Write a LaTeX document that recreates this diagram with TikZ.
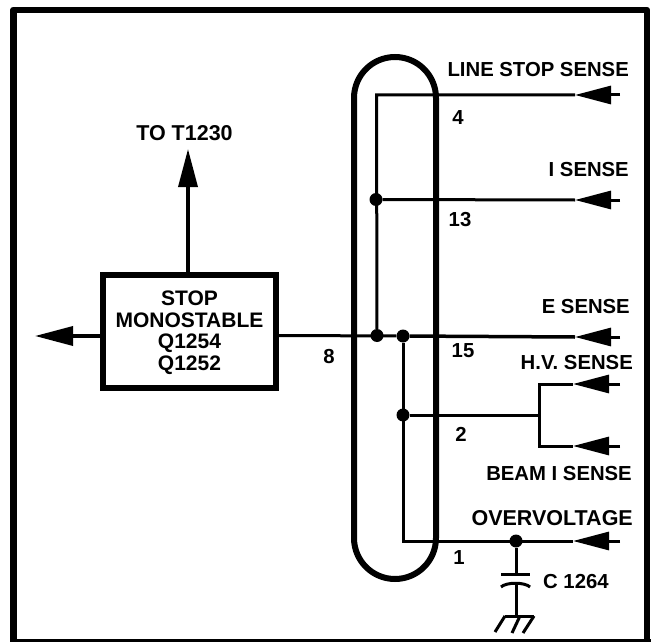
\documentclass[tikz,border=0pt]{standalone}
\usepackage{fontspec}
\setmainfont{Liberation Sans}
\usetikzlibrary{arrows.meta}
\tikzset{
 wire/.style={line width=3pt,black},
 lbl/.style={font=\bfseries\fontsize{20.3pt}{21.5pt}\selectfont,inner sep=0pt,text=black},
 dot/.style={circle,fill=black,inner sep=0pt,minimum size=13pt},
 arw/.style={wire,-{Triangle[length=36pt,width=18pt]}},
 bigarw/.style={wire,line width=3.5pt,-{Triangle[length=38pt,width=19pt]}},
}
\begin{document}
\begin{tikzpicture}[x=1pt,y=-1pt]
\useasboundingbox (0,0) rectangle (651,642);
\draw[line width=6.5pt,black,line join=round] (13.3,640)--(13.3,10)--(647,10)--(647,640);
\draw[line width=3pt,black] (10,640)--(651,640);
\draw[line width=6pt,black,rounded corners=41pt] (354,57) rectangle (436,579);
% block
\node[draw=black,line width=6pt,minimum width=173pt,minimum height=113pt,align=center,lbl,font=\bfseries\fontsize{21pt}{21.5pt}\selectfont,text depth=0pt,yshift=0pt] (stop) at (189.5,331.5) {};
\node[lbl,align=center,font=\bfseries\fontsize{21pt}{21.5pt}\selectfont] (stoptext) at (189.5,332.5)
 {STOP\\MONOSTABLE\\Q1254\\Q1252};
\coordinate (l) at (35,336);
\draw[bigarw] (stop.west |- l) -- (l);
\coordinate (up) at (188,149);
\draw[bigarw] (up |- stop.north) -- (up);
\node[lbl,font=\bfseries\fontsize{21.5pt}{22pt}\selectfont] (tot) at (184.5,133) {TO T1230};
% junctions
\node[dot] (j1) at (376,199.5) {};
\node[dot] (j2) at (377,335.5) {};
\node[dot] (j3) at (403,336) {};
\node[dot] (j4) at (403,415) {};
\node[dot] (j5) at (516,541) {};
% inputs
\coordinate (t1) at (575,95);
\coordinate (t2) at (575,200);
\coordinate (t3) at (575,337);
\coordinate (t4) at (573,384);
\coordinate (t5) at (573,446);
\coordinate (t6) at (573,541);
\coordinate (e1) at (620,95);
\coordinate (e2) at (620,200);
\coordinate (e3) at (620,337);
\coordinate (e4) at (620,384);
\coordinate (e5) at (620,446);
\coordinate (e6) at (620,541);
\draw[arw] (e1)--(t1); \draw[arw] (e2)--(t2); \draw[arw] (e3)--(t3);
\draw[arw] (e4)--(t4); \draw[arw] (e5)--(t5); \draw[arw] (e6)--(t6);
\draw[wire] (j2) -- (376.5,95) -- (t1);
\draw[wire] (j1) -- (t2);
\draw[wire] (stop.east |- j2) -- (j3);
\draw[wire,line width=3.5pt] (j3) -- (t3);
\draw[wire] (j3) -- (403,541) -- (t6);
\draw[wire] (j4) -- (539,415);
\draw[wire] (t4) -- (539,384) -- (539,446) -- (t5);
% capacitor
\coordinate (p1) at (501,574);
\coordinate (p2) at (530,574);
\coordinate (q1) at (501,587);
\coordinate (q2) at (530,587);
\coordinate (g) at (516,616);
\draw[wire] (j5) -- (516,574);
\draw[wire] (p1) -- (p2);
\draw[wire] (q1) .. controls (506,582) and (525,582) .. (q2);
\draw[wire] (516,583) -- (g);
\draw[wire] (505,616) -- (534,616);
\draw[wire] (505,616) -- (495,632) (520,616) -- (512,633) (534,616) -- (523,633);
% labels
\node[lbl,anchor=east] (a) at (629,70) {LINE STOP SENSE};
\node[lbl,anchor=east] (b) at (629,170) {I SENSE};
\node[lbl,anchor=east] (c) at (630,307) {E SENSE};
\node[lbl,anchor=east] (d) at (633,363) {H.V. SENSE};
\node[lbl,anchor=east] (e) at (632,474) {BEAM I SENSE};
\node[lbl,anchor=east,font=\bfseries\fontsize{21.5pt}{22pt}\selectfont] (f) at (633,518) {OVERVOLTAGE};
\node[lbl,anchor=west] (g1) at (543,582) {C 1264};
\node[lbl] (n4) at (458,118) {4};
\node[lbl] (n13) at (460,220) {13};
\node[lbl] (n15) at (463,351) {15};
\node[lbl] (n2) at (461,434) {2};
\node[lbl] (n1) at (459,558) {1};
\node[lbl] (n8) at (329,357) {8};
\end{tikzpicture}
\end{document}
